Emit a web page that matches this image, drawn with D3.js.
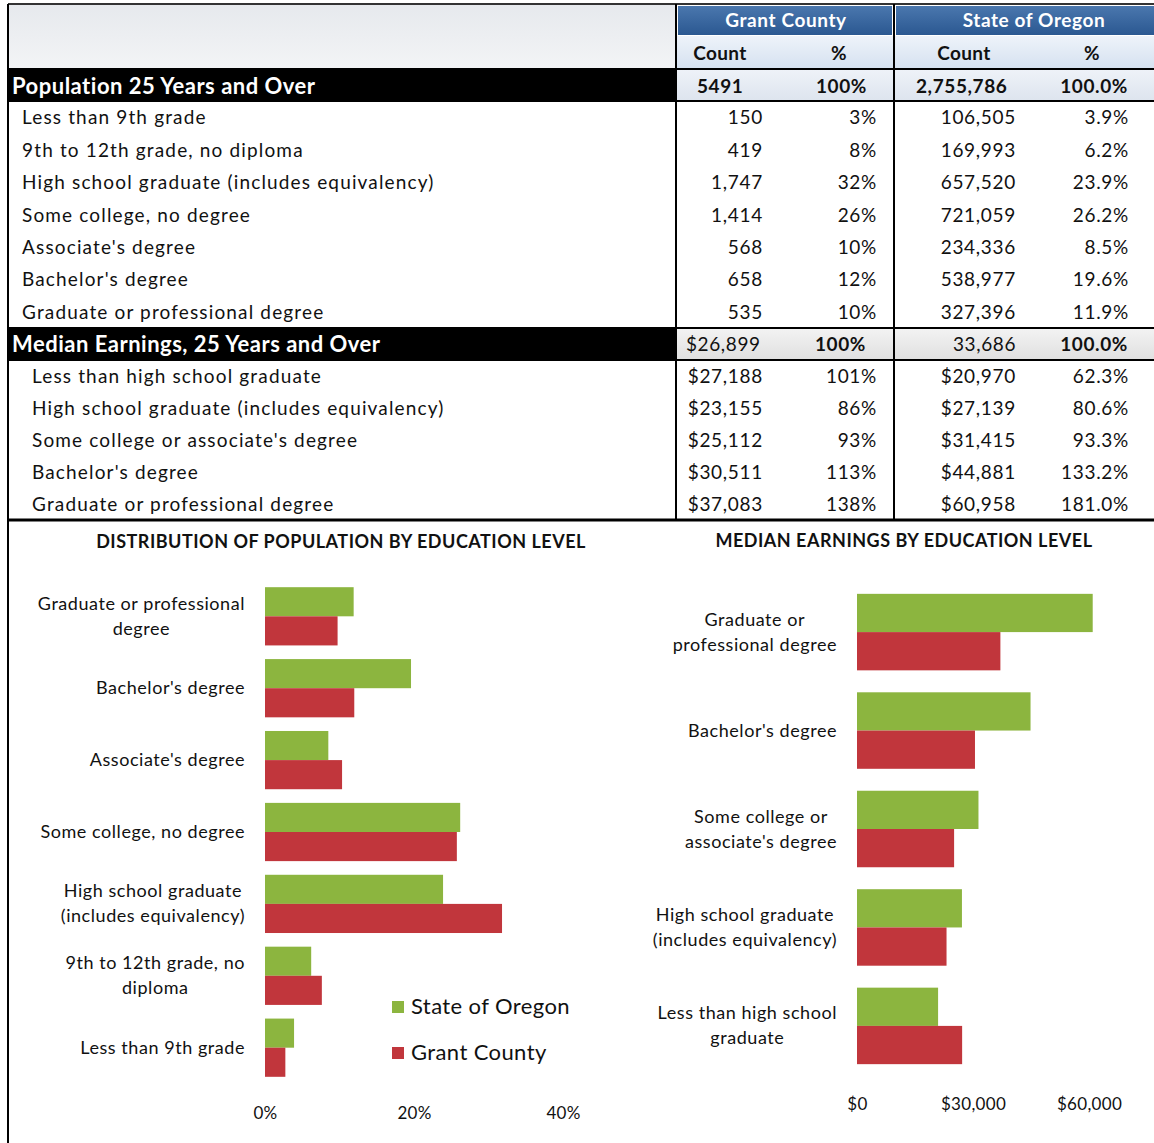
<!DOCTYPE html>
<html>
<head>
<meta charset="utf-8">
<script src="https://cdn.jsdelivr.net/npm/d3@7"></script>
<style>
  body { margin: 0; background: #fff; }
  text { font-family: Lato, "Open Sans", sans-serif; fill: #111; }
</style>
</head>
<body>
<svg id="chart" width="1154" height="1143"></svg>
<script>
// ---- table data ----
const popLevels = [
  "Less than 9th grade",
  "9th to 12th grade, no diploma",
  "High school graduate (includes equivalency)",
  "Some college, no degree",
  "Associate's degree",
  "Bachelor's degree",
  "Graduate or professional degree"
];
const popGrantCount = [150, 419, 1747, 1414, 568, 658, 535];
const popGrantPct = [3, 8, 32, 26, 10, 12, 10];
const popStateCount = [106505, 169993, 657520, 721059, 234336, 538977, 327396];
const popStatePct = [3.9, 6.2, 23.9, 26.2, 8.5, 19.6, 11.9];
const grantTotal = 5491;
const stateTotal = 2755786;

const earnLevels = [
  "Less than high school graduate",
  "High school graduate (includes equivalency)",
  "Some college or associate's degree",
  "Bachelor's degree",
  "Graduate or professional degree"
];
const earnGrant = [27188, 23155, 25112, 30511, 37083];
const earnGrantPct = [101, 86, 93, 113, 138];
const earnState = [20970, 27139, 31415, 44881, 60958];
const earnStatePct = [62.3, 80.6, 93.3, 133.2, 181.0];
const grantMedian = 26899;
const stateMedian = 33686;

// ---- chart labels / ticks ----
const seriesNames = ["State of Oregon", "Grant County"];
const popChartLabels = [
  ["Less than 9th grade"],
  ["9th to 12th grade, no", "diploma"],
  ["High school graduate", "(includes equivalency)"],
  ["Some college, no degree"],
  ["Associate's degree"],
  ["Bachelor's degree"],
  ["Graduate or professional", "degree"]
];
const earnChartLabels = [
  ["Less than high school", "graduate"],
  ["High school graduate", "(includes equivalency)"],
  ["Some college or", "associate's degree"],
  ["Bachelor's degree"],
  ["Graduate or", "professional degree"]
];
const popTicks = [0, 20, 40];
const earnTicks = [0, 30000, 60000];

const colors = { "State of Oregon": "#8cb53f", "Grant County": "#c1363c" };

const svg = d3.select("#chart");
const defs = svg.append("defs");

function grad(id, top, bottom) {
  const g = defs.append("linearGradient").attr("id", id)
    .attr("x1", 0).attr("y1", 0).attr("x2", 0).attr("y2", 1);
  g.append("stop").attr("offset", 0).attr("stop-color", top);
  g.append("stop").attr("offset", 1).attr("stop-color", bottom);
}
grad("gBlue", "#4a77ae", "#2b5891");
grad("gTopLeft", "#e6e9ed", "#f3f4f6");
grad("gCountRow", "#eef3fa", "#d5e1f0");
grad("gPopHead", "#eef2f8", "#dde4ee");
grad("gMedHead", "#f3f3f3", "#e0e0e0");

const fmtComma = d3.format(",");
const fmtDollar = d3.format("$,");

// ---- table ----
const colLabel = 676, colMid = 894;
const gcCountR = 762, gcPctR = 876, stCountR = 1015, stPctR = 1128;

svg.append("rect").attr("x", 8).attr("y", 4).attr("width", colLabel - 8).attr("height", 65).attr("fill", "url(#gTopLeft)");
svg.append("rect").attr("x", colLabel).attr("y", 36).attr("width", 1154 - colLabel).attr("height", 33).attr("fill", "url(#gCountRow)");
svg.append("rect").attr("x", colLabel + 2).attr("y", 6).attr("width", colMid - colLabel - 4).attr("height", 29).attr("fill", "url(#gBlue)");
svg.append("rect").attr("x", colMid + 2).attr("y", 6).attr("width", 1154 - colMid - 2).attr("height", 29).attr("fill", "url(#gBlue)");

svg.append("text").attr("x", 786).attr("y", 27).attr("text-anchor", "middle")
  .style("fill", "#fff").style("font-weight", 700).style("font-size", "19px").style("letter-spacing", "0.6px").text("Grant County");
svg.append("text").attr("x", 1034).attr("y", 27).attr("text-anchor", "middle")
  .style("fill", "#fff").style("font-weight", 700).style("font-size", "19px").style("letter-spacing", "0.6px").text("State of Oregon");

[["Count", 720], ["%", 839], ["Count", 964], ["%", 1092]].forEach(([t, x]) => {
  svg.append("text").attr("x", x).attr("y", 60).attr("text-anchor", "middle")
    .style("font-weight", 700).style("font-size", "19px").style("letter-spacing", "0.4px").text(t);
});

// section header bands
function sectionHeader(y0, h, label, fillRight, vals) {
  svg.append("rect").attr("x", 8).attr("y", y0).attr("width", colLabel - 8).attr("height", h).attr("fill", "#000");
  svg.append("rect").attr("x", colLabel).attr("y", y0).attr("width", 1154 - colLabel).attr("height", h).attr("fill", fillRight);
  svg.append("text").attr("x", 12).attr("y", y0 + h / 2 + 8)
    .style("fill", "#fff").style("font-weight", 700).style("font-size", "22px")
    .style("letter-spacing", "0.5px").text(label);
  vals.forEach(v => {
    svg.append("text").attr("x", v.x).attr("y", y0 + h / 2 + 7)
      .attr("text-anchor", v.anchor)
      .style("font-weight", v.bold ? 700 : 400).style("font-size", "19px")
      .style("letter-spacing", "0.6px").text(v.t);
  });
}

sectionHeader(70, 31, "Population 25 Years and Over", "url(#gPopHead)", [
  { t: grantTotal, x: 697, anchor: "start", bold: true },
  { t: "100%", x: 867, anchor: "end", bold: true },
  { t: fmtComma(stateTotal), x: 916, anchor: "start", bold: true },
  { t: "100.0%", x: 1128, anchor: "end", bold: true }
]);
sectionHeader(328, 32, "Median Earnings, 25 Years and Over", "url(#gMedHead)", [
  { t: fmtDollar(grantMedian), x: 686, anchor: "start", bold: false },
  { t: "100%", x: 866, anchor: "end", bold: true },
  { t: fmtComma(stateMedian), x: stCountR + 1, anchor: "end", bold: false },
  { t: "100.0%", x: 1128, anchor: "end", bold: true }
]);

// data rows
function rowCells(rows, labelX, cells) {
  rows.append("text").attr("x", labelX).style("letter-spacing", "1.15px").text(d => d);
  cells.forEach(([x, f]) => {
    rows.append("text").attr("x", x + 1).attr("text-anchor", "end")
      .style("letter-spacing", "0.7px").text((d, i) => f(i));
  });
}

const popRowY = d3.scaleBand().domain(d3.range(popLevels.length)).range([101, 328]);
const popRows = svg.append("g").selectAll("g").data(popLevels).join("g")
  .attr("transform", (d, i) => `translate(0,${popRowY(i) + popRowY.bandwidth() / 2 + 7})`)
  .style("font-size", "19px");
rowCells(popRows, 22, [
  [gcCountR, i => fmtComma(popGrantCount[i])],
  [gcPctR, i => popGrantPct[i] + "%"],
  [stCountR, i => fmtComma(popStateCount[i])],
  [stPctR, i => popStatePct[i].toFixed(1) + "%"]
]);

const earnRowY = d3.scaleBand().domain(d3.range(earnLevels.length)).range([360, 520]);
const earnRows = svg.append("g").selectAll("g").data(earnLevels).join("g")
  .attr("transform", (d, i) => `translate(0,${earnRowY(i) + earnRowY.bandwidth() / 2 + 7})`)
  .style("font-size", "19px");
rowCells(earnRows, 32, [
  [gcCountR, i => fmtDollar(earnGrant[i])],
  [gcPctR, i => earnGrantPct[i] + "%"],
  [stCountR, i => fmtDollar(earnState[i])],
  [stPctR, i => earnStatePct[i].toFixed(1) + "%"]
]);

// grid lines
const lines = svg.append("g").attr("stroke", "#000");
lines.append("line").attr("x1", 8).attr("x2", 1154).attr("y1", 4).attr("y2", 4).attr("stroke", "#333").attr("stroke-width", 2);
[69, 101, 328, 360].forEach(y => {
  lines.append("line").attr("x1", 8).attr("x2", 1154).attr("y1", y).attr("y2", y).attr("stroke-width", 2);
});
lines.append("line").attr("x1", 8).attr("x2", 1154).attr("y1", 520).attr("y2", 520).attr("stroke-width", 3);
lines.append("line").attr("x1", 8).attr("x2", 8).attr("y1", 4).attr("y2", 1143).attr("stroke-width", 2);
[colLabel, colMid].forEach(x => {
  lines.append("line").attr("x1", x).attr("x2", x).attr("y1", 4).attr("y2", 520).attr("stroke-width", 2);
});

// ---- charts ----
function drawLabels(g, labels, yScale, rightX, lineH) {
  labels.forEach(([cat, lns]) => {
    const cy = yScale(cat) + yScale.bandwidth() / 2;
    const t = g.append("text").style("font-size", "18px").style("letter-spacing", "0.55px")
      .attr("text-anchor", "middle");
    const spans = lns.map((ln, j) =>
      t.append("tspan").attr("y", cy + 6 + (j - (lns.length - 1) / 2) * lineH).text(ln));
    const maxW = d3.max(spans, s => s.node().getComputedTextLength());
    spans.forEach(s => s.attr("x", rightX - maxW / 2));
  });
}

function drawBars(g, cats, stateVals, grantVals, x, y) {
  const yS = d3.scaleBand().domain(seriesNames).range([0, y.bandwidth()]);
  const rows = cats.map((c, i) => ({ cat: c, "State of Oregon": stateVals[i], "Grant County": grantVals[i] }));
  g.selectAll("g.grp").data(rows).join("g").attr("class", "grp")
    .attr("transform", d => `translate(0,${y(d.cat)})`)
    .selectAll("rect").data(d => seriesNames.map(s => ({ s, v: d[s] }))).join("rect")
    .attr("x", x(0))
    .attr("y", d => yS(d.s))
    .attr("width", d => x(d.v) - x(0))
    .attr("height", yS.bandwidth())
    .attr("fill", d => colors[d.s]);
}

// left chart: distribution of population
const popOrder = popLevels.slice().reverse();
const xPop = d3.scaleLinear().domain([0, 40]).range([265, 563]);
const yPop = d3.scaleBand().domain(popOrder).range([580, 1084]).paddingInner(0.19).paddingOuter(0.1);
const gPop = svg.append("g");
svg.append("text").attr("x", 341).attr("y", 548).attr("text-anchor", "middle")
  .style("font-weight", 700).style("font-size", "18px").style("letter-spacing", "0.5px")
  .text("DISTRIBUTION OF POPULATION BY EDUCATION LEVEL");
drawBars(gPop, popLevels, popStatePct, popGrantCount.map(c => c / grantTotal * 100), xPop, yPop);
drawLabels(gPop, popLevels.map((c, i) => [c, popChartLabels[i]]), yPop, 245, 25);

const axPop = svg.append("g").attr("transform", "translate(0,1104)")
  .call(d3.axisBottom(xPop).tickValues(popTicks).tickFormat(d => d + "%").tickSize(0).tickPadding(3));
axPop.select(".domain").remove();
axPop.selectAll("text").style("font-size", "17px").style("font-family", "Lato, sans-serif")
  .style("letter-spacing", "0.3px").attr("fill", "#111");

// legend
const legend = svg.append("g").selectAll("g").data(seriesNames).join("g")
  .attr("transform", (d, i) => `translate(392,${1001 + i * 46})`);
legend.append("rect").attr("width", 12).attr("height", 12).attr("fill", d => colors[d]);
legend.append("text").attr("x", 19).attr("y", 13).style("font-size", "22px")
  .style("letter-spacing", "0.4px").text(d => d);

// right chart: median earnings
const earnOrder = earnLevels.slice().reverse();
const xEarn = d3.scaleLinear().domain([0, 60000]).range([857, 1089]);
const yEarn = d3.scaleBand().domain(earnOrder).range([584, 1074]).paddingInner(0.223).paddingOuter(0.1);
const gEarn = svg.append("g");
svg.append("text").attr("x", 904).attr("y", 547).attr("text-anchor", "middle")
  .style("font-weight", 700).style("font-size", "18px").style("letter-spacing", "0.5px")
  .text("MEDIAN EARNINGS BY EDUCATION LEVEL");
drawBars(gEarn, earnLevels, earnState, earnGrant, xEarn, yEarn);
drawLabels(gEarn, earnLevels.map((c, i) => [c, earnChartLabels[i]]), yEarn, 837, 25);

const axEarn = svg.append("g").attr("transform", "translate(0,1095)")
  .call(d3.axisBottom(xEarn).tickValues(earnTicks).tickFormat(d3.format("$,")).tickSize(0).tickPadding(3));
axEarn.select(".domain").remove();
axEarn.selectAll("text").style("font-size", "17px").style("font-family", "Lato, sans-serif")
  .style("letter-spacing", "0.3px").attr("fill", "#111");
</script>
</body>
</html>
